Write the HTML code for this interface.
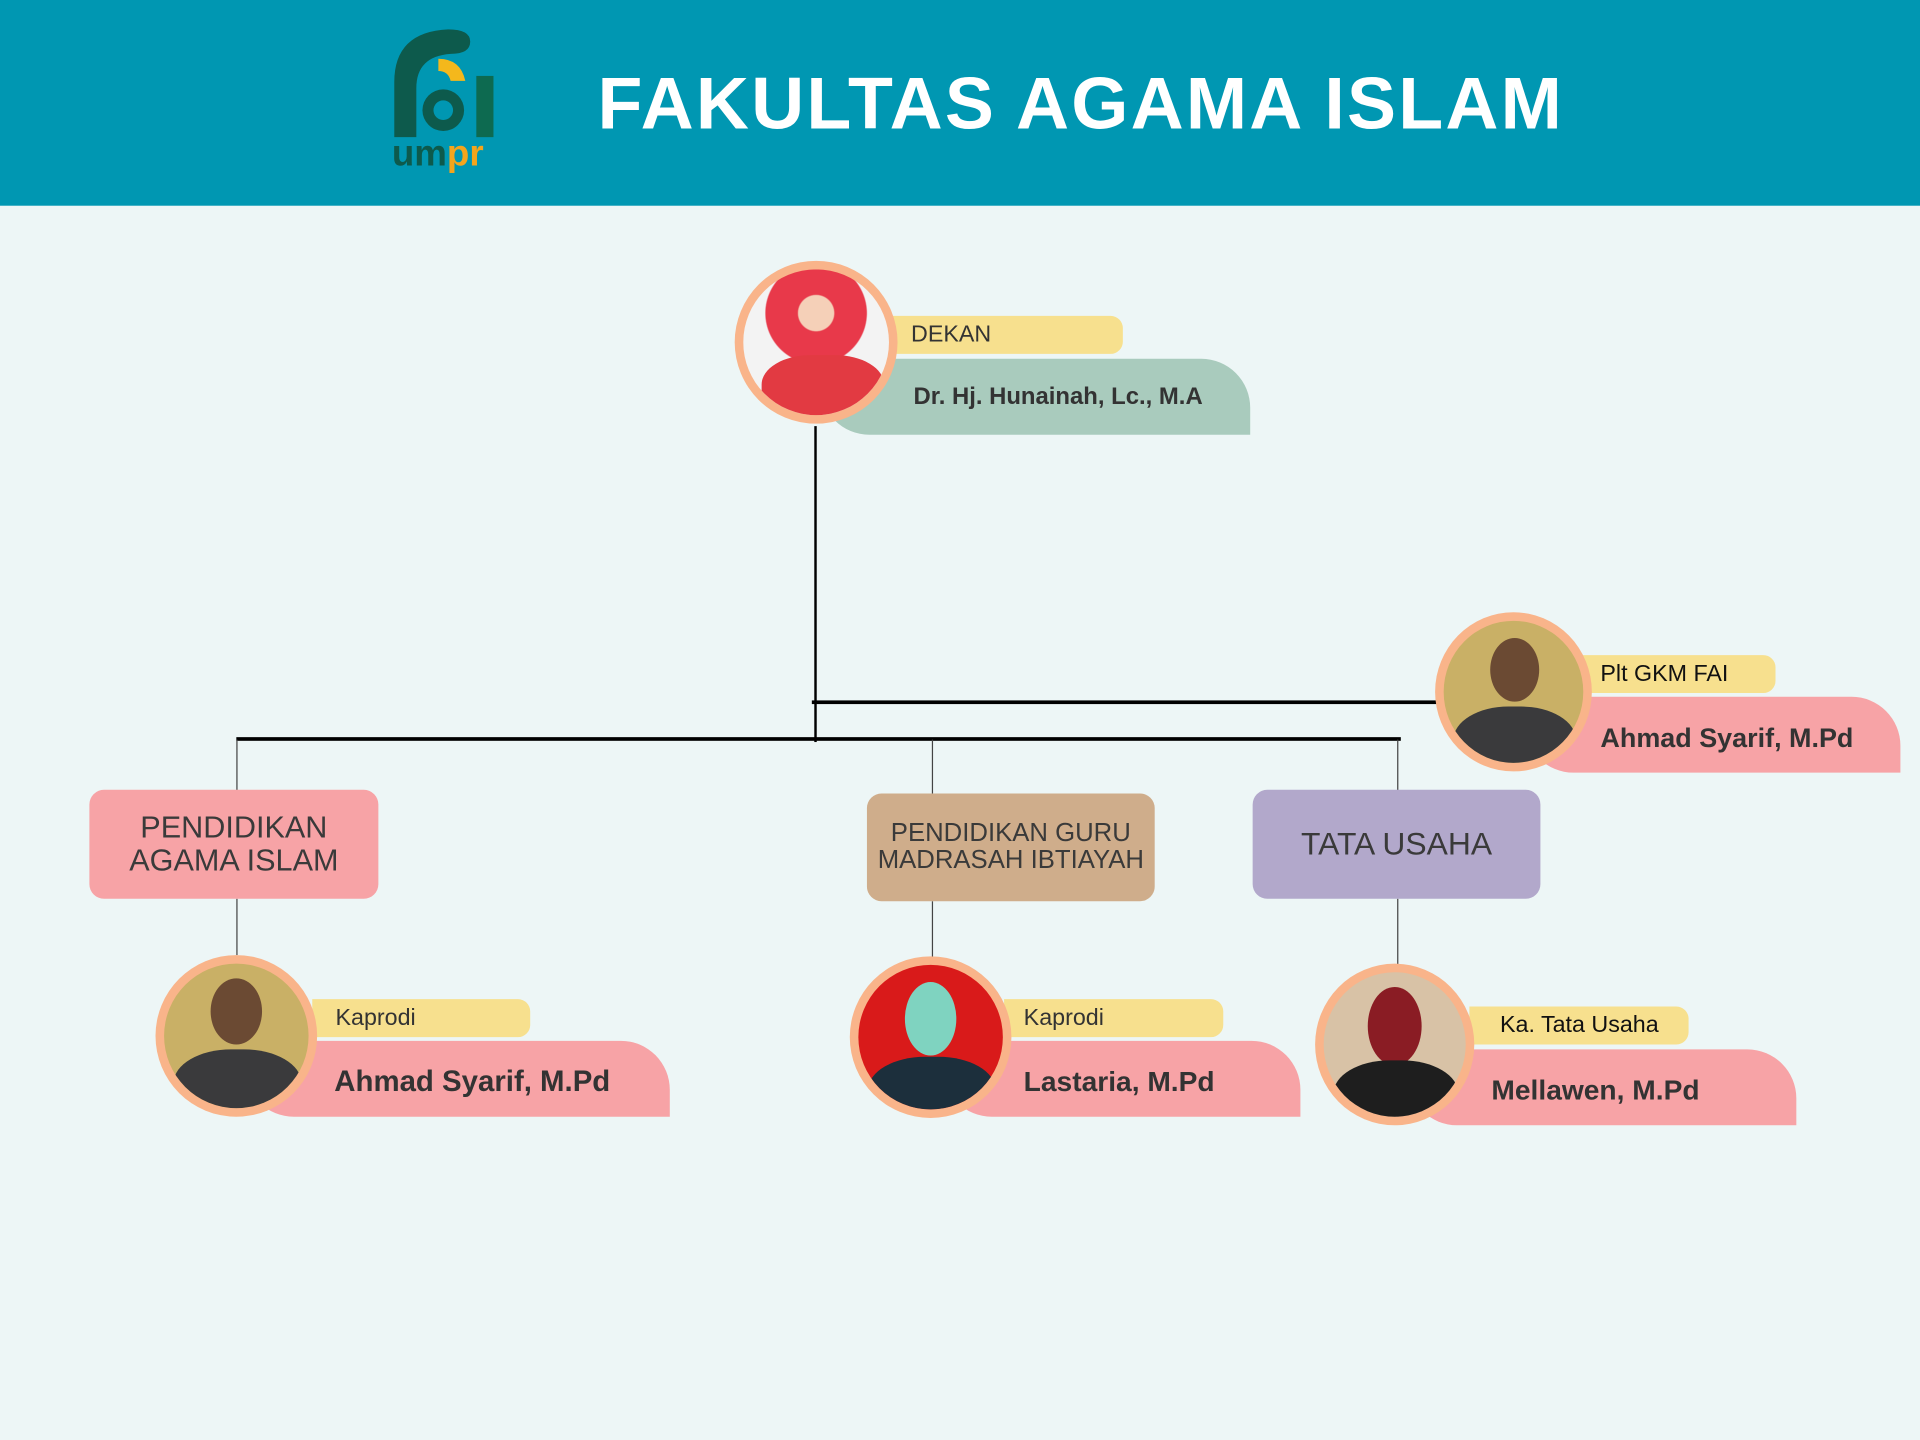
<!DOCTYPE html>
<html><head><meta charset="utf-8"><style>
html,body{margin:0;padding:0;width:1920px;height:1440px;overflow:hidden;background:#edf6f6;}
#s{position:absolute;left:0;top:0;width:1568px;height:1176px;transform:scale(1.22449);transform-origin:0 0;font-family:"Liberation Sans",sans-serif;}
.a{position:absolute;}
.hdr{left:0;top:0;width:1568px;height:168px;background:#0097b2;}
.title{left:488px;top:50px;font-size:60px;font-weight:bold;color:#fff;letter-spacing:1.8px;white-space:nowrap;}
.ln{position:absolute;background:#000;}
.lt{position:absolute;background:#444;width:1px;}
.circ{position:absolute;border-radius:50%;background:#f9b48a;}
.ph{position:absolute;left:7px;top:7px;right:7px;bottom:7px;border-radius:50%;overflow:hidden;}
.yl{position:absolute;background:#f7e08e;border-radius:0 10px 10px 0;color:#333;font-size:19px;box-sizing:border-box;padding-left:14px;line-height:31px;}
.nm{position:absolute;border-radius:0 40px 0 40px;color:#333;font-size:23px;font-weight:bold;box-sizing:border-box;white-space:nowrap;}
.box{position:absolute;border-radius:12px;color:#3a3a3a;text-align:center;display:flex;align-items:center;justify-content:center;line-height:1.05;}
</style></head><body><div id="s">
<div class="a hdr"></div>
<svg class="a" style="left:318px;top:22px" width="90" height="120" viewBox="0 0 90 120">
<path d="M4 90 V45 Q4 4 48 2 Q66 2 66 12 Q66 22 50 22 Q22 24 22 50 V90 Z" fill="#0d5a4c"/>
<path d="M40 26 Q58 26 62 44 L50 44 Q48 36 40 36 Z" fill="#f4b81c"/>
<circle cx="44" cy="68" r="17" fill="#0d5a4c"/><circle cx="44" cy="68" r="8" fill="#0097b2"/>
<rect x="71" y="40" width="14" height="50" fill="#0d6a50"/>
<text x="2" y="113" font-family="Liberation Sans" font-weight="bold" font-size="30" fill="#0d5a4c">um<tspan fill="#f4a51c">pr</tspan></text>
</svg>
<div class="a title">FAKULTAS AGAMA ISLAM</div>

<div class="ln" style="left:665px;top:348px;width:2px;height:258px"></div>
<div class="ln" style="left:663px;top:572px;width:512px;height:3px"></div>
<div class="ln" style="left:193px;top:602px;width:951px;height:3px"></div>
<div class="lt" style="left:193px;top:604px;height:42px"></div>
<div class="lt" style="left:761px;top:604px;height:44px"></div>
<div class="lt" style="left:1141px;top:604px;height:42px"></div>
<div class="lt" style="left:193px;top:734px;height:46px"></div>
<div class="lt" style="left:761px;top:736px;height:46px"></div>
<div class="lt" style="left:1141px;top:734px;height:56px"></div>

<div class="nm" style="left:670px;top:293px;width:351px;height:62px;background:#a9cbbd;padding:20px 0 0 76px;font-size:19.5px">Dr. Hj. Hunainah, Lc., M.A</div>
<div class="yl" style="left:728px;top:258px;width:189px;height:31px;padding-left:16px">DEKAN</div>
<div class="circ" style="left:600px;top:213px;width:133px;height:133px"><div class="ph" style="background:radial-gradient(circle at 50% 30%,#f5d0b8 0 14%,#e8394a 15% 40%,#f3f3f3 41%),#fff;"><div style="position:absolute;left:15px;top:70px;width:100px;height:60px;border-radius:40% 40% 0 0;background:#e23a42"></div></div></div>

<div class="nm" style="left:1245px;top:569px;width:307px;height:62px;background:#f7a3a6;padding:21px 0 0 62px;font-size:22px">Ahmad Syarif, M.Pd</div>
<div class="yl" style="left:1290px;top:535px;width:160px;height:31px;padding-left:17px;color:#111">Plt GKM FAI</div>
<div class="circ" style="left:1172px;top:500px;width:128px;height:130px"><div class="ph" style="background:#c9b066"><div style="position:absolute;left:38px;top:14px;width:40px;height:52px;border-radius:50%;background:#6b4a33"></div><div style="position:absolute;left:8px;top:70px;width:100px;height:60px;border-radius:45% 45% 0 0;background:#3a3a3c"></div></div></div>

<div class="box" style="left:73px;top:645px;width:236px;height:89px;background:#f7a3a6;font-size:25px">PENDIDIKAN<br>AGAMA ISLAM</div>
<div class="box" style="left:708px;top:648px;width:235px;height:88px;background:#cfad8b;font-size:21px">PENDIDIKAN GURU<br>MADRASAH IBTIAYAH</div>
<div class="box" style="left:1023px;top:645px;width:235px;height:89px;background:#b2a8cb;font-size:26px">TATA USAHA</div>

<div class="nm" style="left:200px;top:850px;width:347px;height:62px;background:#f7a3a6;padding:20px 0 0 73px;font-size:24px">Ahmad Syarif, M.Pd</div>
<div class="yl" style="left:255px;top:816px;width:178px;height:31px;padding-left:19px">Kaprodi</div>
<div class="circ" style="left:127px;top:780px;width:132px;height:132px"><div class="ph" style="background:#c9b066"><div style="position:absolute;left:38px;top:12px;width:42px;height:54px;border-radius:50%;background:#6b4a33"></div><div style="position:absolute;left:8px;top:70px;width:104px;height:60px;border-radius:45% 45% 0 0;background:#3a3a3c"></div></div></div>

<div class="nm" style="left:770px;top:850px;width:292px;height:62px;background:#f7a3a6;padding:20px 0 0 66px">Lastaria, M.Pd</div>
<div class="yl" style="left:820px;top:816px;width:179px;height:31px;padding-left:16px">Kaprodi</div>
<div class="circ" style="left:694px;top:781px;width:132px;height:132px"><div class="ph" style="background:#d91a1a"><div style="position:absolute;left:38px;top:14px;width:42px;height:60px;border-radius:50%;background:#7fd3c0"></div><div style="position:absolute;left:8px;top:75px;width:104px;height:60px;border-radius:45% 45% 0 0;background:#1c2f3c"></div></div></div>

<div class="nm" style="left:1150px;top:857px;width:317px;height:62px;background:#f7a3a6;padding:20px 0 0 68px">Mellawen, M.Pd</div>
<div class="yl" style="left:1200px;top:822px;width:179px;height:31px;padding-left:25px;color:#111">Ka. Tata Usaha</div>
<div class="circ" style="left:1074px;top:787px;width:130px;height:132px"><div class="ph" style="background:#d8c2a6"><div style="position:absolute;left:36px;top:12px;width:44px;height:64px;border-radius:50%;background:#8a1c24"></div><div style="position:absolute;left:8px;top:72px;width:102px;height:60px;border-radius:45% 45% 0 0;background:#1e1e1e"></div></div></div>
</div></body></html>
